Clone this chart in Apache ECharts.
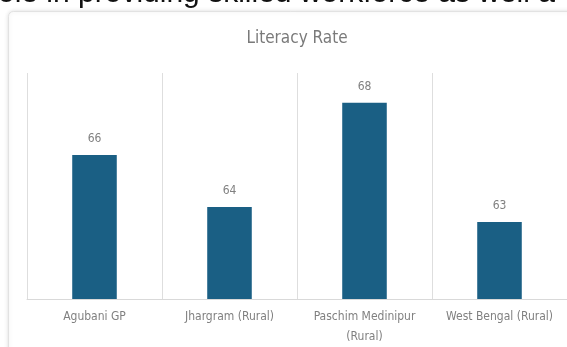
<!DOCTYPE html>
<html><head><meta charset="utf-8">
<script src="https://cdn.jsdelivr.net/npm/echarts@6/dist/echarts.min.js"></script>
<style>html,body{margin:0;padding:0;background:#fff;}#c{width:567px;height:347px;}</style>
</head><body><div id="c"></div>
<script>
const categories = ['Agubani GP', 'Jhargram (Rural)', 'Paschim Medinipur\n(Rural)', 'West Bengal (Rural)'];
const literacy = [65.8, 63.7, 67.9, 63.1];
const titleText = 'Literacy Rate';
const headerText = 'ole in providing skilled workforce as well a';

const FONT = '"DejaVu Sans Condensed", "Liberation Sans Narrow", sans-serif';
const chart = echarts.init(document.getElementById('c'), null, {renderer: 'canvas'});
chart.setOption({
  animation: false,
  backgroundColor: '#fff',
  graphic: [
    {type: 'rect', z: -10, shape: {x: 8.5, y: 11.5, width: 620, height: 400, r: 5},
     style: {fill: '#fff', stroke: '#e2e2e2', lineWidth: 1, shadowBlur: 4, shadowColor: 'rgba(0,0,0,0.12)'}},
    {type: 'text', left: -2, top: -21, z: 10,
     style: {text: headerText, font: '30px "Liberation Sans", Arial, sans-serif', fill: '#111'}}
  ],
  title: {text: titleText, left: 292, top: 25, textAlign: 'center',
    textStyle: {fontSize: 17, fontWeight: 'normal', color: '#7a7a7a', fontFamily: FONT}},
  grid: {left: 27, right: 0, top: 73, bottom: 47, containLabel: false},
  xAxis: {type: 'category', data: categories,
    axisLine: {show: true, lineStyle: {color: '#d9d9d9'}},
    axisTick: {show: false},
    splitLine: {show: true, lineStyle: {color: '#dedede'}},
    axisLabel: {color: '#808080', fontSize: 12, margin: 8, lineHeight: 20, interval: 0, fontFamily: FONT}},
  yAxis: {type: 'value', min: 60, max: 69.1, show: false, splitLine: {show: false}},
  series: [{type: 'bar', data: literacy, barWidth: '33%',
    itemStyle: {color: '#1a5f84'},
    label: {show: true, position: 'top', distance: 10, color: '#808080', fontSize: 12, fontFamily: FONT,
      formatter: p => Math.round(p.value)}}]
});
</script></body></html>
